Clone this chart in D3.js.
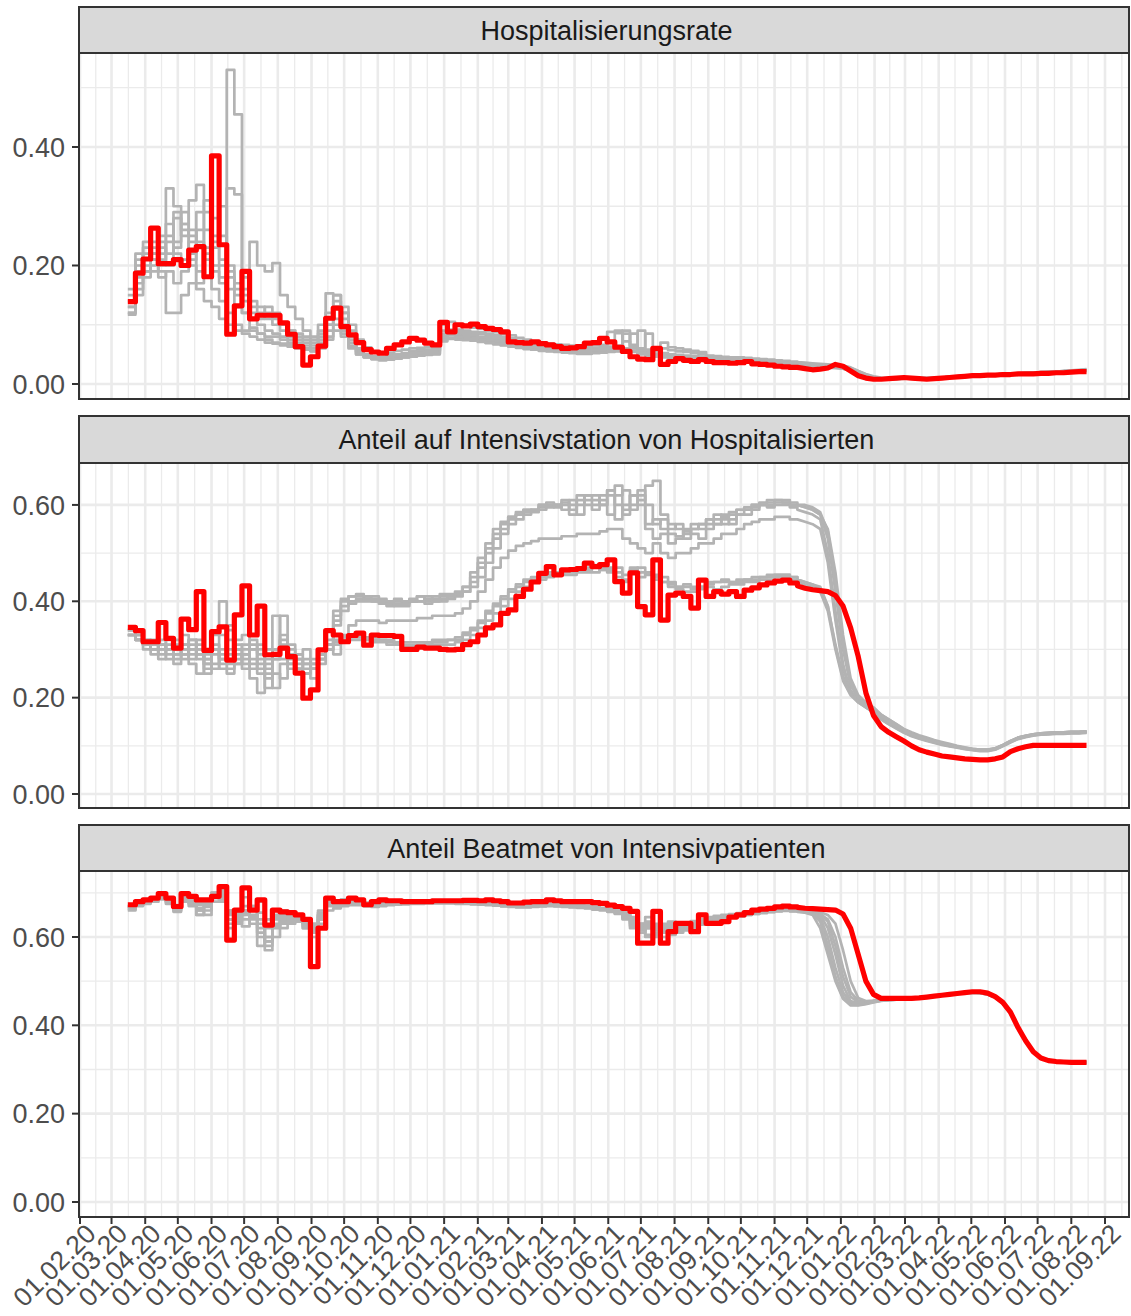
<!DOCTYPE html>
<html><head><meta charset="utf-8">
<script src="https://cdn.jsdelivr.net/npm/d3@7"></script>
<style>
body{margin:0;background:#fff}
svg{display:block}
text{font-family:"Liberation Sans",Arial,Helvetica,sans-serif}
</style>
</head><body>
<svg id="chart" width="1131" height="1316"></svg>
<script>
// ---------- data ----------
const panelTitles = ["Hospitalisierungsrate", "Anteil auf Intensivstation von Hospitalisierten", "Anteil Beatmet von Intensivpatienten"];
const weekStart = "2020-03-16";          // first weekly observation
const tickStart = "2020-02-01", tickEnd = "2022-09-01";
const yTicks = [[0, 0.2, 0.4], [0, 0.2, 0.4, 0.6], [0, 0.2, 0.4, 0.6]];
const yMinor = [[0.1, 0.3, 0.5], [0.1, 0.3, 0.5], [0.1, 0.3, 0.5, 0.7]];
const yDomains = [[-0.0253, 0.5586], [-0.029, 0.687], [-0.034, 0.7494]];

// red series (weekly)
const redHosp = [
.139,.187,.211,.263,.203,.203,.21,.20,.226,.232,.181,.385,.235,.084,.132,
.19,.11,.116,.116,.116,.103,.084,.063,.032,.046,.064,.111,.128,.097,
.083,.07,.058,.054,.052,.06,.066,.071,.077,.074,.069,.066,
.104,.088,.10,.098,.101,.097,.094,.092,.088,.071,
.070,.069,.071,.068,.066,.063,.060,.061,.063,.069,.070,.077,.071,.062,.055,.046,.042,.041,.06,.033,.038,.043,.040,.038,.041,
.038,.036,.036,.035,.036,.038,.034,.033,.032,.03,.029,.028,.028,.026,.024,.025,.027,.033,.030,.022,
.014,.010,.008,.008,.009,.010,.011,.010,.009,.008,.009,.010,.011,.012,.013,.014,.014,.015,.015,.016,.016,.017,.017,.017,.018,.018,.019,.019,.020,.021,.021];
const redIcu = [
.346,.339,.316,.316,.356,.323,.303,.363,.341,.42,.298,.337,.347,.278,.372,
.432,.33,.39,.289,.29,.303,.285,.251,.199,.216,.299,.339,.33,.316,
.329,.334,.309,.33,.329,.329,.327,.30,.30,.305,.303,.303,
.30,.299,.30,.31,.316,.33,.345,.351,.375,.382,
.41,.425,.44,.458,.472,.455,.465,.466,.468,.479,.472,.476,.486,.441,.417,.459,.389,.372,.486,.361,.413,.417,.41,.386,.444,
.41,.42,.415,.42,.41,.423,.428,.434,.438,.442,.444,.438,.432,.427,.424,.422,.42,.412,.39,.345,
.285,.21,.163,.14,.128,.119,.11,.10,.092,.087,.083,.079,.077,.075,.073,.072,.071,.071,.073,.077,.088,.094,.098,.101,.101,.101,.101,.101,.101,.101,.101];
const redVent = [
.673,.680,.684,.688,.698,.688,.669,.698,.692,.684,.684,.692,.714,.593,.661,
.711,.661,.684,.627,.661,.657,.655,.65,.64,.533,.62,.688,.68,.68,
.688,.684,.673,.68,.684,.682,.682,.68,.68,.68,.68,.682,
.682,.682,.682,.683,.683,.682,.684,.682,.680,.677,
.677,.679,.680,.680,.684,.682,.680,.680,.680,.680,.678,.676,.672,.669,.665,.658,.586,.586,.658,.586,.612,.631,.631,.612,.65,
.631,.631,.635,.645,.650,.655,.661,.663,.665,.668,.670,.668,.667,.665,.664,.663,.662,.661,.652,.62,
.56,.50,.47,.461,.461,.461,.461,.461,.462,.464,.466,.468,.470,.472,.474,.476,.476,.473,.465,.452,.43,.395,.365,.34,.326,.32,.318,.317,.316,.316,.316];

// grey series (weekly, one array per series)
const greyHosp = [
[.13,.18,.22,.23,.21,.24,.28,.25,.26,.24,.22,.20,.18,.53,.455,
 .16,.14,.13,.12,.11,.10,.09,.085,.08,.075,.09,.12,.15,.13,
 .10,.075,.062,.055,.052,.05,.05,.052,.055,.057,.058,.06,
 .085,.09,.092,.09,.088,.087,.085,.083,.08,.077,
 .073,.07,.068,.067,.066,.065,.063,.062,.06,.06,.061,.062,.088,.09,.06,.06,.058,.056,.058,.06,.057,.055,.054,.052,.05,
 .044,.043,.043,.042,.042,.041,.041,.040,.039,.038,.037,.036,.035,.034,.033,.032,.031,.030,.030,.027,
 .022,.017,.013,.011,.010,.010,.011,.011,.010,.010,.010,.011,.012,.013,.014,.015,.015,.016,.016,.017,.017,.018,.018,.019,.019,.020,.020,.021,.022,.023,.024],
[.12,.20,.24,.22,.25,.33,.30,.27,.31,.336,.29,.25,.30,.20,.16,
 .18,.24,.20,.19,.204,.15,.13,.11,.09,.08,.10,.153,.15,.12,
 .09,.07,.06,.055,.052,.053,.056,.058,.06,.061,.062,.063,
 .10,.105,.10,.097,.095,.093,.09,.088,.085,.082,
 .078,.075,.072,.07,.068,.067,.066,.065,.064,.064,.065,.066,.07,.086,.072,.066,.09,.058,.056,.07,.062,.06,.058,.056,.054,
 .048,.047,.046,.045,.045,.044,.043,.042,.041,.040,.039,.038,.037,.036,.035,.034,.033,.032,.031,.028,
 .022,.016,.012,.010,.009,.009,.010,.010,.009,.009,.010,.011,.012,.013,.014,.014,.015,.016,.016,.017,.018,.018,.019,.019,.020,.021,.021,.022,.023,.024,.025],
[.117,.15,.18,.20,.19,.12,.12,.15,.17,.16,.14,.13,.11,.10,.09,
 .085,.08,.075,.07,.068,.065,.063,.06,.058,.056,.07,.10,.14,.11,
 .075,.055,.048,.045,.043,.043,.045,.047,.05,.052,.053,.055,
 .08,.085,.083,.082,.08,.078,.076,.074,.072,.07,
 .068,.066,.064,.062,.06,.058,.057,.056,.055,.055,.056,.057,.058,.06,.058,.055,.05,.048,.046,.045,.044,.043,.042,.042,.041,
 .040,.040,.039,.039,.038,.038,.037,.036,.035,.034,.033,.032,.031,.030,.029,.028,.027,.027,.026,.022,
 .016,.012,.009,.008,.008,.008,.009,.009,.009,.009,.010,.010,.011,.012,.013,.013,.014,.015,.015,.016,.016,.017,.017,.018,.018,.019,.019,.020,.020,.021,.022],
[.14,.19,.21,.24,.22,.27,.24,.29,.25,.23,.31,.28,.25,.18,.15,
 .14,.12,.11,.13,.12,.10,.09,.08,.075,.07,.085,.11,.13,.10,
 .07,.058,.05,.047,.046,.047,.049,.051,.053,.055,.057,.058,
 .09,.092,.09,.088,.086,.085,.083,.081,.078,.075,
 .071,.068,.066,.064,.062,.061,.06,.059,.058,.058,.059,.06,.063,.065,.085,.06,.055,.052,.05,.049,.048,.047,.046,.045,.045,
 .044,.043,.042,.042,.041,.040,.040,.039,.038,.037,.036,.035,.034,.033,.032,.031,.030,.029,.028,.024,
 .018,.013,.010,.009,.009,.009,.010,.010,.010,.010,.010,.011,.012,.013,.013,.014,.015,.015,.016,.016,.017,.017,.018,.018,.019,.019,.020,.021,.021,.022,.023],
[.16,.21,.23,.21,.23,.22,.29,.26,.22,.29,.26,.23,.2,.16,.13,
 .12,.11,.10,.09,.085,.08,.075,.07,.065,.06,.075,.09,.11,.09,
 .065,.052,.046,.043,.042,.043,.045,.047,.049,.05,.051,.052,
 .078,.082,.08,.079,.077,.075,.073,.071,.069,.067,
 .065,.063,.061,.059,.058,.057,.056,.055,.054,.054,.055,.056,.057,.058,.057,.085,.052,.05,.048,.047,.046,.045,.044,.043,.043,
 .042,.041,.041,.040,.039,.039,.038,.037,.036,.035,.034,.033,.032,.031,.030,.029,.028,.028,.027,.023,
 .017,.012,.010,.009,.008,.009,.009,.010,.010,.009,.010,.011,.011,.012,.013,.014,.014,.015,.016,.016,.017,.017,.018,.019,.019,.020,.020,.021,.022,.022,.023],
[.13,.17,.2,.19,.2,.25,.22,.21,.24,.19,.21,.19,.17,.33,.32,
 .12,.09,.085,.08,.08,.075,.07,.065,.06,.056,.065,.08,.10,.085,
 .062,.05,.045,.042,.041,.042,.043,.045,.047,.048,.05,.051,
 .075,.078,.077,.076,.074,.072,.07,.068,.066,.064,
 .062,.06,.058,.057,.056,.055,.054,.053,.052,.052,.053,.054,.055,.056,.056,.055,.053,.05,.047,.046,.045,.044,.043,.043,.042,
 .041,.041,.040,.040,.039,.038,.038,.037,.036,.035,.034,.033,.032,.031,.030,.029,.029,.028,.027,.024,
 .019,.014,.011,.009,.009,.009,.010,.010,.010,.010,.011,.011,.012,.013,.013,.014,.015,.015,.016,.017,.017,.018,.018,.019,.020,.020,.021,.022,.022,.023,.024],
[.15,.22,.19,.21,.24,.20,.23,.27,.21,.26,.23,.24,.21,.19,.17,
 .15,.13,.12,.11,.10,.09,.08,.075,.07,.065,.08,.10,.13,.12,
 .08,.06,.05,.046,.044,.045,.047,.049,.051,.053,.054,.056,
 .082,.087,.086,.084,.082,.08,.079,.077,.074,.072,
 .069,.067,.065,.063,.061,.06,.059,.058,.057,.057,.058,.059,.06,.062,.09,.064,.06,.085,.055,.052,.05,.049,.048,.047,.046,
 .045,.044,.043,.042,.041,.041,.040,.039,.038,.037,.036,.035,.034,.033,.032,.031,.030,.030,.029,.025,
 .018,.013,.010,.009,.009,.010,.010,.010,.010,.010,.011,.011,.012,.013,.014,.014,.015,.016,.016,.017,.017,.018,.019,.019,.020,.020,.021,.022,.022,.023,.024],
[.12,.16,.19,.22,.18,.19,.17,.19,.20,.17,.18,.16,.14,.12,.10,
 .09,.095,.085,.075,.07,.068,.066,.064,.06,.055,.06,.075,.09,.08,
 .06,.05,.045,.042,.04,.041,.043,.045,.046,.048,.049,.05,
 .072,.076,.075,.074,.073,.071,.069,.067,.065,.063,
 .061,.059,.058,.056,.055,.054,.053,.052,.051,.051,.052,.053,.054,.055,.055,.054,.052,.049,.047,.046,.045,.044,.043,.042,.042,
 .041,.040,.040,.039,.038,.038,.037,.036,.035,.034,.033,.033,.032,.031,.030,.029,.028,.027,.026,.023,
 .018,.013,.010,.009,.008,.008,.009,.009,.009,.009,.010,.010,.011,.012,.012,.013,.014,.014,.015,.016,.016,.017,.017,.018,.018,.019,.019,.020,.021,.021,.022]
];
const greyIcu = [
[.34,.33,.31,.30,.32,.30,.31,.33,.30,.29,.28,.33,.40,.30,.29,.27,.30,.31,.29,.37,.31,.29,.28,.27,.28,.30,.32,
 .36,.39,.40,.405,.41,.41,.405,.40,.40,.395,.40,.41,.40,.405,.41,.41,.415,.42,.43,.45,.48,
 .51,.54,.56,.57,.58,.59,.595,.60,.60,.605,.60,.60,.61,
 .60,.61,.58,.62,.63,.60,.61,.64,.65,.58,.56,.55,.54,.56,.55,.56,.57,.56,.57,.58,
 .58,.59,.60,.60,.605,.605,.60,.60,.595,.59,.58,
 .53,.42,.30,.225,.20,.19,.18,.165,.155,
 .145,.135,.128,.122,.117,.112,.108,.104,.10,.097,.094,.092,.092,.095,.102,.110,.117,.121,.124,.126,.127,.128,.128,.129,.129,.13],
[.33,.32,.30,.31,.29,.32,.28,.30,.27,.25,.29,.30,.26,.25,.31,.28,.24,.21,.25,.22,.27,.28,.26,.25,.26,.28,.31,
 .37,.40,.41,.41,.405,.40,.40,.395,.39,.39,.40,.40,.395,.40,.40,.405,.41,.42,.44,.47,.50,
 .53,.55,.57,.58,.585,.59,.60,.60,.595,.60,.58,.62,.60,
 .59,.62,.63,.57,.60,.59,.62,.55,.53,.54,.52,.53,.55,.54,.53,.55,.56,.57,.56,.58,
 .59,.60,.60,.595,.60,.60,.595,.59,.585,.58,.57,
 .50,.38,.27,.21,.19,.18,.17,.155,.145,
 .137,.128,.121,.116,.111,.107,.103,.10,.097,.094,.092,.09,.09,.093,.10,.108,.115,.119,.122,.124,.125,.126,.126,.127,.127,.128],
[.34,.33,.32,.29,.31,.30,.32,.29,.31,.28,.30,.27,.33,.29,.27,.29,.26,.30,.28,.25,.24,.27,.29,.30,.27,.29,.30,
 .35,.38,.395,.40,.40,.40,.395,.39,.395,.40,.405,.40,.41,.40,.405,.41,.415,.43,.46,.49,.52,
 .55,.565,.575,.58,.59,.585,.59,.595,.60,.59,.61,.58,.62,
 .62,.60,.63,.64,.59,.62,.60,.56,.57,.55,.54,.535,.545,.55,.56,.57,.58,.575,.585,.59,
 .595,.60,.605,.61,.61,.605,.60,.60,.595,.59,.58,
 .55,.46,.33,.24,.205,.19,.175,.16,.15,
 .14,.131,.124,.118,.113,.109,.105,.101,.098,.095,.093,.091,.091,.094,.101,.109,.116,.12,.123,.125,.126,.127,.127,.128,.128,.129],
[.33,.32,.31,.30,.30,.28,.29,.31,.28,.30,.26,.29,.27,.32,.30,.26,.28,.27,.26,.28,.30,.27,.26,.25,.26,.29,.30,
 .29,.33,.35,.36,.36,.36,.355,.36,.36,.36,.36,.365,.365,.37,.37,.37,.375,.385,.40,.42,.445,
 .47,.49,.505,.515,.52,.525,.53,.53,.53,.535,.535,.54,.54,
 .54,.545,.55,.55,.53,.52,.51,.50,.52,.50,.49,.50,.50,.51,.52,.52,.53,.54,.54,.55,
 .56,.565,.57,.57,.575,.575,.57,.57,.565,.56,.55,
 .48,.36,.26,.215,.195,.18,.17,.155,.145,
 .136,.127,.12,.115,.11,.106,.102,.099,.096,.093,.091,.089,.089,.092,.099,.107,.114,.118,.121,.123,.124,.125,.125,.126,.126,.127],
[.33,.32,.31,.30,.31,.30,.29,.31,.30,.32,.27,.31,.28,.26,.32,.33,.30,.29,.22,.29,.33,.30,.28,.25,.24,.27,.30,
 .31,.315,.32,.32,.32,.315,.315,.31,.31,.305,.305,.305,.31,.31,.31,.31,.315,.32,.33,.345,.36,
 .375,.39,.405,.42,.43,.44,.445,.45,.455,.455,.455,.46,.46,
 .46,.465,.46,.47,.455,.46,.45,.46,.455,.44,.43,.425,.42,.42,.425,.43,.425,.43,.435,.435,
 .44,.44,.445,.445,.45,.45,.445,.44,.435,.43,.42,
 .38,.30,.235,.205,.19,.18,.17,.16,.15,
 .14,.13,.123,.117,.112,.108,.104,.1,.097,.094,.092,.09,.09,.093,.1,.108,.115,.119,.122,.124,.125,.126,.126,.127,.127,.128],
[.34,.33,.32,.31,.30,.31,.30,.28,.32,.29,.25,.30,.28,.35,.27,.29,.31,.26,.30,.28,.37,.29,.26,.28,.26,.28,.31,
 .315,.32,.325,.325,.32,.32,.32,.315,.31,.31,.31,.31,.31,.315,.315,.32,.32,.33,.34,.355,.375,
 .39,.405,.42,.43,.44,.445,.45,.455,.455,.46,.46,.465,.465,
 .47,.465,.47,.45,.44,.465,.47,.46,.45,.45,.44,.43,.435,.43,.43,.44,.44,.445,.44,.445,
 .445,.45,.45,.455,.455,.455,.45,.445,.44,.435,.43,
 .39,.31,.245,.21,.195,.185,.175,.165,.155,
 .145,.134,.126,.12,.114,.109,.105,.101,.098,.095,.093,.091,.091,.094,.101,.109,.117,.121,.124,.126,.127,.128,.128,.129,.129,.13],
[.33,.32,.31,.31,.28,.30,.27,.29,.32,.30,.27,.26,.30,.34,.28,.30,.27,.25,.27,.30,.28,.26,.27,.26,.27,.29,.31,
 .38,.405,.41,.415,.41,.405,.40,.40,.405,.40,.40,.41,.405,.41,.415,.415,.42,.43,.45,.48,.51,
 .54,.56,.575,.585,.59,.59,.60,.605,.60,.61,.59,.61,.62,
 .61,.60,.62,.60,.58,.62,.63,.60,.56,.57,.55,.56,.53,.55,.56,.57,.56,.58,.58,.59,
 .59,.595,.60,.605,.61,.61,.605,.60,.60,.595,.585,
 .545,.44,.31,.23,.20,.185,.175,.16,.15,
 .141,.132,.125,.119,.114,.11,.106,.102,.099,.096,.094,.092,.092,.095,.102,.11,.117,.121,.124,.126,.127,.128,.128,.129,.129,.13],
[.33,.32,.31,.32,.31,.29,.30,.30,.29,.31,.28,.30,.29,.27,.30,.31,.32,.28,.24,.30,.32,.31,.29,.27,.26,.28,.31,
 .32,.325,.33,.33,.325,.325,.32,.32,.315,.315,.315,.315,.315,.32,.32,.32,.325,.335,.345,.36,.38,
 .395,.41,.425,.435,.445,.45,.455,.46,.46,.465,.465,.47,.47,
 .475,.47,.465,.46,.445,.47,.46,.455,.445,.44,.435,.43,.43,.425,.43,.435,.44,.44,.44,.44,
 .445,.445,.45,.45,.455,.455,.45,.445,.44,.435,.425,
 .39,.305,.24,.208,.192,.182,.172,.162,.152,
 .142,.132,.124,.118,.113,.109,.105,.101,.098,.095,.093,.091,.091,.094,.101,.109,.116,.12,.123,.125,.126,.127,.127,.128,.128,.129]
];
const greyVent = [
[.665,.675,.68,.685,.69,.68,.657,.685,.68,.65,.675,.70,.69,.66,.65,.624,.66,.58,.64,.645,.65,.648,.645,.62,.60,.64,.67,
 .675,.68,.682,.675,.67,.672,.675,.676,.676,.676,.677,.677,.678,.678,.678,.678,.677,.677,.676,.675,.674,.672,.67,.669,.669,.67,.671,.672,.672,.671,.67,.67,.669,.668,
 .666,.664,.66,.655,.645,.63,.62,.645,.61,.60,.62,.615,.62,.625,.64,.63,.635,.64,.645,.648,
 .652,.655,.657,.658,.66,.66,.659,.658,.657,.655,.64,.58,.51,.465,.45,.448,.45,.453,
 .457,.458,.459,.460,.461,.462,.464,.466,.468,.470,.472,.474,.475,.474,.471,.464,.45,.428,.395,.364,.34,.326,.32,.318,.317,.316,.316,.316],
[.67,.68,.685,.69,.695,.69,.67,.69,.685,.68,.68,.70,.70,.62,.66,.69,.66,.68,.57,.62,.64,.64,.64,.63,.62,.66,.685,
 .68,.685,.685,.68,.678,.678,.68,.68,.68,.68,.68,.68,.68,.68,.68,.68,.679,.679,.678,.677,.676,.675,.674,.673,.673,.673,.674,.675,.675,.674,.673,.672,.671,.67,
 .668,.665,.662,.66,.655,.64,.63,.60,.62,.61,.63,.625,.63,.635,.63,.64,.645,.645,.65,.652,
 .655,.657,.659,.66,.661,.662,.661,.66,.658,.655,.65,.62,.56,.49,.455,.45,.452,.455,
 .458,.459,.46,.461,.462,.463,.465,.467,.469,.471,.473,.475,.476,.475,.472,.465,.451,.429,.396,.365,.341,.327,.321,.319,.318,.317,.317,.317],
[.66,.67,.675,.68,.685,.675,.66,.68,.67,.65,.66,.69,.68,.63,.64,.65,.64,.60,.58,.60,.63,.64,.635,.62,.61,.63,.66,
 .665,.67,.672,.672,.67,.668,.67,.672,.673,.674,.675,.675,.676,.676,.676,.676,.675,.675,.674,.673,.672,.671,.67,.668,.667,.667,.668,.669,.67,.669,.668,.667,.666,.665,
 .662,.66,.657,.652,.64,.62,.63,.605,.60,.615,.62,.61,.615,.62,.63,.635,.64,.642,.645,.647,
 .65,.652,.654,.656,.658,.659,.658,.657,.655,.65,.62,.56,.50,.46,.445,.445,.448,.452,
 .455,.457,.458,.459,.46,.462,.464,.466,.468,.47,.472,.473,.474,.473,.47,.463,.449,.427,.394,.363,.339,.325,.319,.317,.316,.315,.315,.315],
[.67,.675,.68,.68,.69,.685,.665,.69,.69,.66,.67,.695,.71,.64,.65,.67,.67,.62,.60,.66,.66,.655,.64,.63,.625,.65,.68,
 .678,.68,.68,.678,.675,.676,.678,.679,.679,.679,.68,.68,.68,.68,.68,.679,.679,.678,.677,.676,.675,.674,.673,.672,.672,.672,.673,.674,.674,.673,.672,.671,.67,.669,
 .667,.665,.662,.658,.65,.635,.625,.625,.63,.615,.625,.63,.62,.63,.635,.64,.645,.648,.65,.652,
 .654,.656,.658,.66,.661,.662,.661,.66,.659,.657,.653,.635,.58,.51,.465,.452,.452,.455,
 .457,.458,.46,.461,.462,.463,.465,.467,.469,.471,.473,.475,.476,.475,.472,.465,.451,.429,.396,.365,.341,.327,.321,.319,.318,.317,.317,.317],
[.665,.672,.678,.683,.688,.683,.67,.68,.675,.665,.65,.68,.695,.65,.63,.64,.65,.63,.60,.64,.62,.63,.65,.64,.63,.645,.675,
 .672,.675,.678,.676,.674,.674,.676,.677,.677,.678,.678,.678,.679,.679,.679,.678,.678,.677,.676,.675,.673,.672,.671,.67,.67,.67,.671,.672,.673,.672,.671,.67,.669,.668,
 .666,.663,.66,.656,.648,.64,.61,.62,.625,.63,.605,.62,.625,.63,.632,.638,.64,.644,.647,.65,
 .652,.654,.656,.658,.659,.66,.66,.659,.658,.656,.652,.64,.60,.53,.475,.456,.453,.455,
 .456,.457,.458,.459,.46,.461,.463,.465,.467,.469,.471,.473,.474,.473,.47,.463,.449,.427,.394,.363,.339,.325,.319,.317,.316,.315,.315,.315],
[.668,.678,.682,.686,.692,.688,.672,.688,.683,.672,.678,.695,.69,.66,.655,.66,.67,.64,.62,.65,.645,.65,.645,.635,.63,.655,.68,
 .68,.682,.683,.68,.677,.677,.679,.679,.679,.68,.68,.68,.68,.681,.681,.68,.68,.679,.678,.677,.676,.675,.674,.673,.673,.673,.674,.675,.675,.674,.674,.673,.672,.671,
 .669,.666,.663,.66,.655,.645,.63,.635,.62,.625,.635,.628,.632,.636,.64,.645,.648,.65,.652,.654,
 .656,.658,.66,.661,.662,.663,.662,.661,.66,.658,.656,.65,.63,.57,.50,.462,.455,.456,
 .458,.459,.46,.461,.462,.463,.465,.467,.469,.471,.473,.475,.476,.475,.472,.465,.451,.429,.396,.365,.341,.327,.321,.319,.318,.317,.317,.318],
[.67,.678,.683,.687,.693,.686,.668,.69,.688,.676,.67,.70,.705,.655,.645,.66,.645,.655,.59,.63,.64,.635,.64,.63,.61,.65,.68,
 .677,.68,.681,.678,.675,.675,.677,.678,.678,.679,.679,.679,.68,.68,.68,.679,.679,.678,.677,.676,.674,.673,.672,.671,.671,.671,.672,.673,.674,.673,.672,.671,.67,.669,
 .667,.664,.661,.657,.652,.64,.62,.63,.615,.62,.61,.62,.628,.63,.635,.64,.643,.646,.648,.65,
 .653,.655,.657,.659,.66,.661,.66,.659,.657,.654,.645,.60,.53,.475,.452,.449,.451,.454,
 .457,.458,.459,.46,.461,.462,.464,.466,.468,.47,.472,.474,.475,.474,.471,.464,.45,.428,.395,.364,.34,.326,.32,.318,.317,.316,.316,.316],
[.662,.672,.678,.684,.689,.68,.663,.683,.678,.66,.668,.688,.685,.64,.635,.655,.63,.61,.59,.625,.635,.645,.64,.625,.615,.64,.672,
 .67,.674,.676,.675,.672,.671,.673,.675,.675,.676,.676,.677,.677,.677,.677,.677,.676,.676,.675,.674,.673,.671,.67,.669,.668,.668,.669,.67,.671,.67,.669,.668,.667,.666,
 .664,.662,.659,.654,.645,.625,.615,.62,.605,.61,.625,.615,.618,.622,.628,.633,.638,.641,.644,.647,
 .65,.652,.655,.657,.659,.66,.659,.658,.656,.652,.635,.575,.505,.462,.447,.446,.449,.453,
 .456,.457,.458,.459,.46,.461,.463,.465,.467,.469,.471,.473,.474,.473,.47,.463,.449,.427,.394,.363,.339,.325,.319,.317,.316,.315,.315,.315]
];

const redSeries = [redHosp, redIcu, redVent];
const greySeries = [greyHosp, greyIcu, greyVent];

// ---------- layout ----------
const W = 1131, H = 1316;
const left = 79, right = 1130;
const FONT = 27;
const panels = [
  {stripTop: 7,   top: 53,  bottom: 399},
  {stripTop: 416, top: 463, bottom: 808},
  {stripTop: 825, top: 871, bottom: 1217}
];
const STEP_UNTIL = 88; // weekly step rendering before this index, linear after

const parse = d3.utcParse("%Y-%m-%d");
const t0 = parse(tickStart), t1 = parse(tickEnd);
const x = d3.scaleUtc().domain([t0, t1]).range([80, 1105]);
const monthTicks = d3.utcMonth.range(t0, d3.utcDay.offset(t1, 1));
const minorX = [];
for (let i = 0; i < monthTicks.length; i++) {
  const a = x(monthTicks[i]);
  const b = i + 1 < monthTicks.length ? x(monthTicks[i + 1]) : a + (a - x(monthTicks[i - 1]));
  minorX.push((a + b) / 2);
}
const start = parse(weekStart);
const maxLen = d3.max([...redSeries, ...greySeries.flat()], s => s.length);
const dates = d3.range(maxLen).map(i => d3.utcDay.offset(start, 7 * i));

const svg = d3.select("#chart");
svg.append("rect").attr("width", W).attr("height", H).attr("fill", "#fff");
const defs = svg.append("defs");

function pathFor(vals, y) {
  const pts = vals.map((v, i) => [x(dates[i]), y(v)]);
  const early = pts.slice(0, STEP_UNTIL + 1), late = pts.slice(STEP_UNTIL);
  const l1 = d3.line().curve(d3.curveStepAfter)(early);
  const l2 = late.length > 1 ? d3.line()(late).replace(/^M/, "L") : "";
  return l1 + l2;
}

panels.forEach((p, pi) => {
  const y = d3.scaleLinear().domain(yDomains[pi]).range([p.bottom, p.top]);
  const g = svg.append("g");
  defs.append("clipPath").attr("id", "clip" + pi)
    .append("rect").attr("x", left).attr("y", p.top).attr("width", right - left).attr("height", p.bottom - p.top);

  // grid
  const grid = g.append("g");
  yMinor[pi].filter(v => y(v) > p.top).forEach(v => {
    grid.append("line").attr("x1", left).attr("x2", right).attr("y1", y(v)).attr("y2", y(v))
      .attr("stroke", "#EBEBEB").attr("stroke-width", 1.3);
  });
  minorX.filter(v => v < right).forEach(v => {
    grid.append("line").attr("x1", v).attr("x2", v).attr("y1", p.top).attr("y2", p.bottom)
      .attr("stroke", "#EBEBEB").attr("stroke-width", 1.3);
  });
  yTicks[pi].forEach(v => {
    grid.append("line").attr("x1", left).attr("x2", right).attr("y1", y(v)).attr("y2", y(v))
      .attr("stroke", "#EBEBEB").attr("stroke-width", 2.6);
  });
  monthTicks.forEach(t => {
    grid.append("line").attr("x1", x(t)).attr("x2", x(t)).attr("y1", p.top).attr("y2", p.bottom)
      .attr("stroke", "#EBEBEB").attr("stroke-width", 2.6);
  });

  // lines
  const lines = g.append("g").attr("clip-path", `url(#clip${pi})`);
  greySeries[pi].forEach(s => {
    lines.append("path").attr("d", pathFor(s, y)).attr("fill", "none")
      .attr("stroke", "#B3B3B3").attr("stroke-width", 2.7).attr("stroke-linejoin", "round");
  });
  lines.append("path").attr("d", pathFor(redSeries[pi], y)).attr("fill", "none")
    .attr("stroke", "#FF0000").attr("stroke-width", 5.2).attr("stroke-linejoin", "round").attr("stroke-linecap", "butt");

  // border
  g.append("rect").attr("x", left).attr("y", p.top).attr("width", right - 1 - left).attr("height", p.bottom - p.top)
    .attr("fill", "none").attr("stroke", "#333333").attr("stroke-width", 2);

  // strip
  g.append("rect").attr("x", left).attr("y", p.stripTop).attr("width", right - 1 - left).attr("height", p.top - p.stripTop)
    .attr("fill", "#D9D9D9").attr("stroke", "#333333").attr("stroke-width", 2);
  g.append("text").attr("x", (left + right) / 2 + 2).attr("y", (p.stripTop + p.top) / 2).attr("dy", "0.36em")
    .attr("text-anchor", "middle").attr("font-size", FONT).attr("fill", "#1A1A1A").text(panelTitles[pi]);

  // y axis ticks + labels
  yTicks[pi].forEach(v => {
    g.append("line").attr("x1", left - 7).attr("x2", left).attr("y1", y(v)).attr("y2", y(v))
      .attr("stroke", "#333333").attr("stroke-width", 2);
    g.append("text").attr("x", left - 14).attr("y", y(v)).attr("dy", "0.36em")
      .attr("text-anchor", "end").attr("font-size", FONT).attr("fill", "#4D4D4D").text(d3.format(".2f")(v));
  });

  // x axis on bottom panel only
  if (pi === panels.length - 1) {
    const fmt = d3.utcFormat("%d.%m.%y");
    monthTicks.forEach(t => {
      const tx = x(t);
      g.append("line").attr("x1", tx).attr("x2", tx).attr("y1", p.bottom).attr("y2", p.bottom + 7)
        .attr("stroke", "#333333").attr("stroke-width", 2);
      g.append("text").attr("transform", `translate(${tx + 4},${p.bottom + 5}) rotate(-45)`)
        .attr("dy", "0.71em").attr("text-anchor", "end").attr("font-size", 26.5).attr("fill", "#4D4D4D")
        .text(fmt(t));
    });
  }
});
</script>
</body></html>
